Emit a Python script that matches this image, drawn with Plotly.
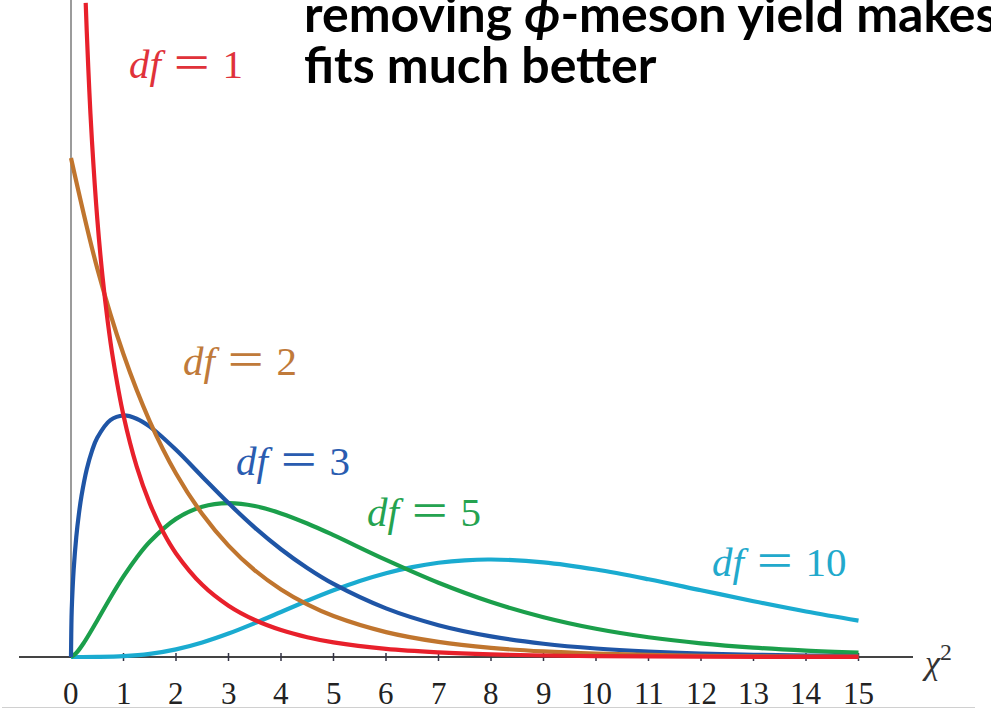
import plotly.graph_objects as go

# Chi-squared probability densities, sampled values per degree of freedom
x_df1 = [0.28, 0.3, 0.35, 0.4, 0.5, 0.6, 0.7, 0.8, 1.0, 1.25, 1.5, 1.75, 2.0, 2.5, 3.0, 3.5,
         4.0, 4.5, 5.0, 6.0, 7.0, 8.0, 9.0, 10.0, 12.0, 15.0]
y_df1 = [0.6555, 0.6269, 0.5661, 0.5164, 0.4394, 0.3815, 0.3360, 0.2990, 0.2420, 0.1910,
         0.1539, 0.1257, 0.1038, 0.0723, 0.0514, 0.0371, 0.0270, 0.0198, 0.0146, 0.0081,
         0.0046, 0.0026, 0.0015, 0.00085, 0.00029, 0.00006]

x_df2 = [0, 0.5, 1, 1.5, 2, 2.5, 3, 3.5, 4, 4.5, 5, 6, 7, 8, 9, 10, 11, 12, 13, 14, 15]
y_df2 = [0.5, 0.3894, 0.3033, 0.2362, 0.1839, 0.1433, 0.1116, 0.0869, 0.0677, 0.0527, 0.0410,
         0.0249, 0.0151, 0.00916, 0.00555, 0.00337, 0.00204, 0.00124, 0.00075, 0.00046, 0.00028]

x_df3 = [0, 0.01, 0.02, 0.05, 0.1, 0.15, 0.2, 0.3, 0.4, 0.5, 0.75, 1, 1.25, 1.5, 2, 2.5, 3,
         3.5, 4, 4.5, 5, 6, 7, 8, 9, 10, 11, 12, 13, 14, 15]
y_df3 = [0, 0.0397, 0.0559, 0.0870, 0.1200, 0.1433, 0.1614, 0.1881, 0.2066, 0.2197, 0.2374,
         0.2420, 0.2387, 0.2308, 0.2076, 0.1807, 0.1542, 0.1297, 0.1080, 0.0892, 0.0732,
         0.0487, 0.0319, 0.0207, 0.0133, 0.0085, 0.0054, 0.0034, 0.0022, 0.0014, 0.00085]

x_df5 = [0, 0.1, 0.25, 0.5, 0.75, 1, 1.25, 1.5, 2, 2.5, 3, 3.5, 4, 4.5, 5, 6, 7, 8, 9, 10, 11,
         12, 13, 14, 15]
y_df5 = [0, 0.0040, 0.01467, 0.0366, 0.0594, 0.0807, 0.0995, 0.1154, 0.1384, 0.1506, 0.1542,
         0.1513, 0.1439, 0.1338, 0.1221, 0.0973, 0.0744, 0.0551, 0.0399, 0.0283, 0.0198,
         0.0137, 0.0094, 0.0064, 0.0043]

x_df10 = [0, 0.5, 1, 1.5, 2, 2.5, 3, 3.5, 4, 4.5, 5, 5.5, 6, 6.5, 7, 7.5, 8, 9, 10, 11, 12,
          13, 14, 15]
y_df10 = [0, 0.00006, 0.00079, 0.00311, 0.00766, 0.01457, 0.0235, 0.03396, 0.0451, 0.0563,
          0.0668, 0.0762, 0.0840, 0.0901, 0.0944, 0.0969, 0.0977, 0.0949, 0.0877, 0.0779,
          0.0669, 0.0559, 0.0456, 0.0365]

tick_values = list(range(0, 16))
tick_labels = [str(v) for v in tick_values]

# a wide, thin equals sign in the style of math typesetting
EQ = "<span style='font-family:Noto Sans CJK SC'>＝</span>"

# (df, x, y, line colour, label colour, label centre in px)
series = [
    (10, x_df10, y_df10, "#1aabd0", "#22a9cc", 779, 558),
    (5, x_df5, y_df5, "#1b9f4b", "#25a350", 424, 508),
    (3, x_df3, y_df3, "#1f55a6", "#2a5cb0", 293, 457),
    (2, x_df2, y_df2, "#c0752e", "#c07a3a", 240, 357),
    (1, x_df1, y_df1, "#e8202b", "#e0323a", 186, 60),
]

W, H = 991, 714
X0_PX, UNIT_X = 71, 52.5      # pixel of x=0 and pixels per unit
Y0_PX, UNIT_Y = 657, 998      # pixel of the baseline and pixels per unit


def px(x):
    return x / W


def py(y):
    return 1 - y / H


fig = go.Figure()
for df, xs, ys, color, _, _, _ in series:
    fig.add_trace(go.Scatter(x=xs, y=ys, mode="lines", name=f"df = {df}",
                             line=dict(color=color, width=4.2, shape="spline", smoothing=1.0),
                             hoverinfo="skip", showlegend=False))

shapes = []
# horizontal axis
shapes.append(dict(type="line", xref="x", yref="y", x0=(19 - X0_PX) / UNIT_X, x1=(913 - X0_PX) / UNIT_X,
                   y0=0, y1=0, line=dict(color="#444444", width=2), layer="below"))
# vertical axis
shapes.append(dict(type="line", xref="x", yref="y", x0=0, x1=0, y0=0, y1=Y0_PX / UNIT_Y + 0.01,
                   line=dict(color="#7a7a7a", width=1.5), layer="below"))
# tick marks
for v in tick_values[1:]:
    shapes.append(dict(type="line", xref="x", yref="y", x0=v, x1=v, y0=-4 / UNIT_Y, y1=4 / UNIT_Y,
                       line=dict(color="#333344", width=1.5), layer="below"))
# thin rule under the tick labels
shapes.append(dict(type="line", xref="paper", yref="paper", x0=px(2), x1=px(975), y0=py(707.5), y1=py(707.5),
                   line=dict(color="#d0d0d0", width=1)))

annotations = []
for v, lab in zip(tick_values, tick_labels):
    annotations.append(dict(x=v, y=(Y0_PX - 693) / UNIT_Y, xref="x", yref="y", text=lab, showarrow=False,
                            xanchor="center", yanchor="middle",
                            font=dict(family="Liberation Serif, DejaVu Serif, serif", size=31, color="#222222")))

for df, _, _, _, tcolor, cx, cy in series:
    annotations.append(dict(x=px(cx), y=py(cy), xref="paper", yref="paper",
                            text=f"<i>df</i> {EQ} {df}", showarrow=False,
                            xanchor="center", yanchor="middle",
                            font=dict(family="Liberation Serif, DejaVu Serif, serif", size=41, color=tcolor)))

annotations.append(dict(x=px(937), y=py(660), xref="paper", yref="paper", text="<i>χ</i><sup>2</sup>",
                        showarrow=False, xanchor="center", yanchor="middle",
                        font=dict(family="Liberation Serif, DejaVu Serif, serif", size=34, color="#333333")))

TITLE_FONT = dict(family="Lato, Open Sans, sans-serif", size=50, color="#000000")
annotations.append(dict(x=px(302), y=py(12.5), xref="paper", yref="paper",
                        text="<b>removing <i>ϕ</i>-meson yield makes</b>", showarrow=False,
                        xanchor="left", yanchor="middle", font=TITLE_FONT))
annotations.append(dict(x=px(302), y=py(63.5), xref="paper", yref="paper",
                        text="<b>fits much better</b>", showarrow=False,
                        xanchor="left", yanchor="middle", font=TITLE_FONT))

fig.update_layout(
    width=W, height=H,
    margin=dict(l=0, r=0, t=0, b=0),
    paper_bgcolor="white", plot_bgcolor="white",
    xaxis=dict(range=[-X0_PX / UNIT_X, (W - X0_PX) / UNIT_X], visible=False, fixedrange=True),
    yaxis=dict(range=[-(H - Y0_PX) / UNIT_Y, Y0_PX / UNIT_Y], visible=False, fixedrange=True),
    shapes=shapes,
    annotations=annotations,
)

fig.write_html("out.html")
